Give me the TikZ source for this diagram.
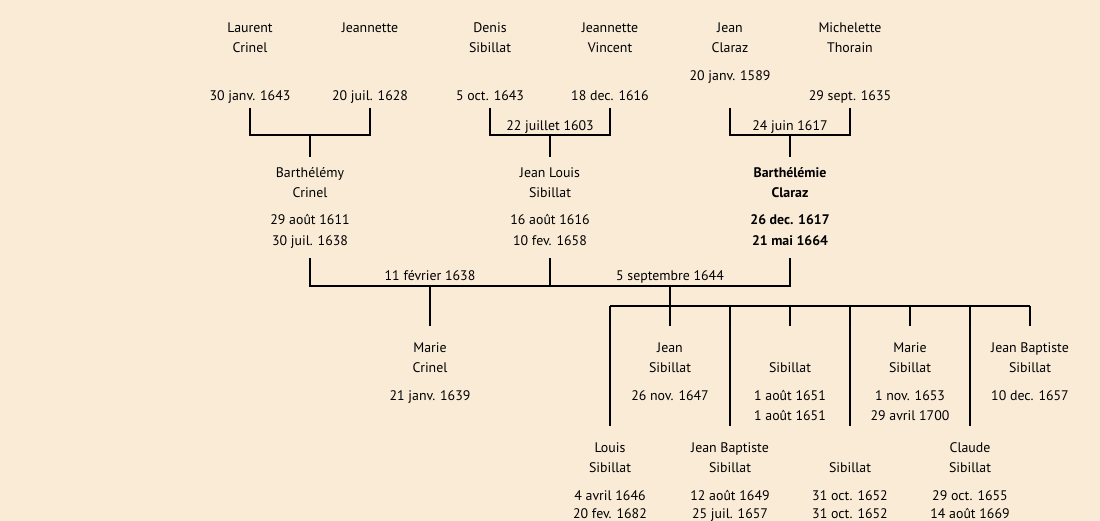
\documentclass[tikz,border=0pt]{standalone}
\usepackage{fontspec}
\setmainfont{PT Sans}
\definecolor{bg}{RGB}{250,235,215}
\newcommand\tl[5][txt]{\node[#1] (#2) at (#3,#4+5) {#5};}
\begin{document}
\begin{tikzpicture}[x=0.75pt,y=-0.75pt,
  txt/.style={anchor=base,inner sep=0pt,font=\fontsize{10.4}{12}\selectfont},
  boldtxt/.style={anchor=base,inner sep=0pt,font=\fontsize{10.4}{12}\selectfont\bfseries},
  link/.style={line width=1.5pt}]
\fill[bg] (0,0) rectangle (1100,521);
\useasboundingbox (0,0) rectangle (1100,521);

% Row 1
\tl{lc1}{250}{27}{Laurent}
\tl{lc2}{250}{47}{Crinel}
\tl{lcd}{250}{95}{30 janv. 1643}
\tl{jn1}{370}{27}{Jeannette}
\tl{jnd}{370}{95}{20 juil. 1628}
\tl{ds1}{490}{27}{Denis}
\tl{ds2}{490}{47}{Sibillat}
\tl{dsd}{490}{95}{5 oct. 1643}
\tl{jv1}{610}{27}{Jeannette}
\tl{jv2}{610}{47}{Vincent}
\tl{jvd}{610}{95}{18 dec. 1616}
\tl{jc1}{730}{27}{Jean}
\tl{jc2}{730}{47}{Claraz}
\tl{jcd}{730}{75}{20 janv. 1589}
\tl{mt1}{850}{27}{Michelette}
\tl{mt2}{850}{47}{Thorain}
\tl{mtd}{850}{95}{29 sept. 1635}
\tl{m1}{550}{125}{22 juillet 1603}
\tl{m2}{790}{125}{24 juin 1617}

% Row 2
\tl{bc1}{310}{172}{Barthélémy}
\tl{bc2}{310}{192}{Crinel}
\tl{bcd1}{310}{219}{29 août 1611}
\tl{bcd2}{310}{240}{30 juil. 1638}
\tl{jl1}{550}{172}{Jean Louis}
\tl{jl2}{550}{192}{Sibillat}
\tl{jld1}{550}{219}{16 août 1616}
\tl{jld2}{550}{240}{10 fev. 1658}
\tl[boldtxt]{bz1}{790}{172}{Barthélémie}
\tl[boldtxt]{bz2}{790}{192}{Claraz}
\tl[boldtxt]{bzd1}{790}{219}{26 dec. 1617}
\tl[boldtxt]{bzd2}{790}{240}{21 mai 1664}
\tl{m3}{430}{275}{11 février 1638}
\tl{m4}{670}{275}{5 septembre 1644}

% Row 3
\tl{mc1}{430}{347}{Marie}
\tl{mc2}{430}{367}{Crinel}
\tl{mcd}{430}{395}{21 janv. 1639}
\tl{js1}{670}{347}{Jean}
\tl{js2}{670}{367}{Sibillat}
\tl{jsd}{670}{395}{26 nov. 1647}
\tl{sa2}{790}{367}{Sibillat}
\tl{sad1}{790}{395}{1 août 1651}
\tl{sad2}{790}{415}{1 août 1651}
\tl{ms1}{910}{347}{Marie}
\tl{ms2}{910}{367}{Sibillat}
\tl{msd1}{910}{395}{1 nov. 1653}
\tl{msd2}{910}{415}{29 avril 1700}
\tl{jbb1}{1030}{347}{Jean Baptiste}
\tl{jbb2}{1030}{367}{Sibillat}
\tl{jbbd}{1030}{395}{10 dec. 1657}

% Row 4
\tl{ls1}{610}{447}{Louis}
\tl{ls2}{610}{467}{Sibillat}
\tl{lsd1}{610}{495}{4 avril 1646}
\tl{lsd2}{610}{513}{20 fev. 1682}
\tl{jba1}{730}{447}{Jean Baptiste}
\tl{jba2}{730}{467}{Sibillat}
\tl{jbad1}{730}{495}{12 août 1649}
\tl{jbad2}{730}{513}{25 juil. 1657}
\tl{sb2}{850}{467}{Sibillat}
\tl{sbd1}{850}{495}{31 oct. 1652}
\tl{sbd2}{850}{513}{31 oct. 1652}
\tl{cs1}{970}{447}{Claude}
\tl{cs2}{970}{467}{Sibillat}
\tl{csd1}{970}{495}{29 oct. 1655}
\tl{csd2}{970}{513}{14 août 1669}

% connector coordinates
\coordinate (lc-b) at (250,108);
\coordinate (jn-b) at (370,108);
\coordinate (c1) at (310,135);
\coordinate (bc-t) at (310,157);
\coordinate (ds-b) at (490,108);
\coordinate (jv-b) at (610,108);
\coordinate (c2) at (550,135);
\coordinate (jl-t) at (550,157);
\coordinate (jc-b) at (730,108);
\coordinate (mt-b) at (850,108);
\coordinate (c3) at (790,135);
\coordinate (bz-t) at (790,157);

\coordinate (bc-b) at (310,258);
\coordinate (jl-b) at (550,258);
\coordinate (bz-b) at (790,258);
\coordinate (jl-j) at (550,286);
\coordinate (c4) at (430,286);
\coordinate (c5) at (670,286);
\coordinate (mc-t) at (430,326);
\coordinate (c6) at (670,306);
\coordinate (k1) at (610,306);
\coordinate (k8) at (1030,306);

\coordinate (ls-t) at (610,426);
\coordinate (js-t) at (670,326);
\coordinate (jba-t) at (730,426);
\coordinate (sa-t) at (790,326);
\coordinate (sb-t) at (850,426);
\coordinate (ms-t) at (910,326);
\coordinate (cs-t) at (970,426);
\coordinate (jbb-t) at (1030,326);

% connectors
\draw[link] (lc-b) |- (c1) -| (jn-b);
\draw[link] (c1) -- (bc-t);
\draw[link] (ds-b) |- (c2) -| (jv-b);
\draw[link] (c2) -- (jl-t);
\draw[link] (jc-b) |- (c3) -| (mt-b);
\draw[link] (c3) -- (bz-t);

\draw[link] (bc-b) |- (c5) -| (bz-b);
\draw[link] (jl-b) -- (jl-j);
\draw[link] (c4) -- (mc-t);
\draw[link] (c5) -- (c6);
\draw[link] (k1) -- (k8);
\foreach \k in {ls,js,jba,sa,sb,ms,cs,jbb}
  \draw[link] (\k-t |- k1) -- (\k-t);
\end{tikzpicture}
\end{document}
